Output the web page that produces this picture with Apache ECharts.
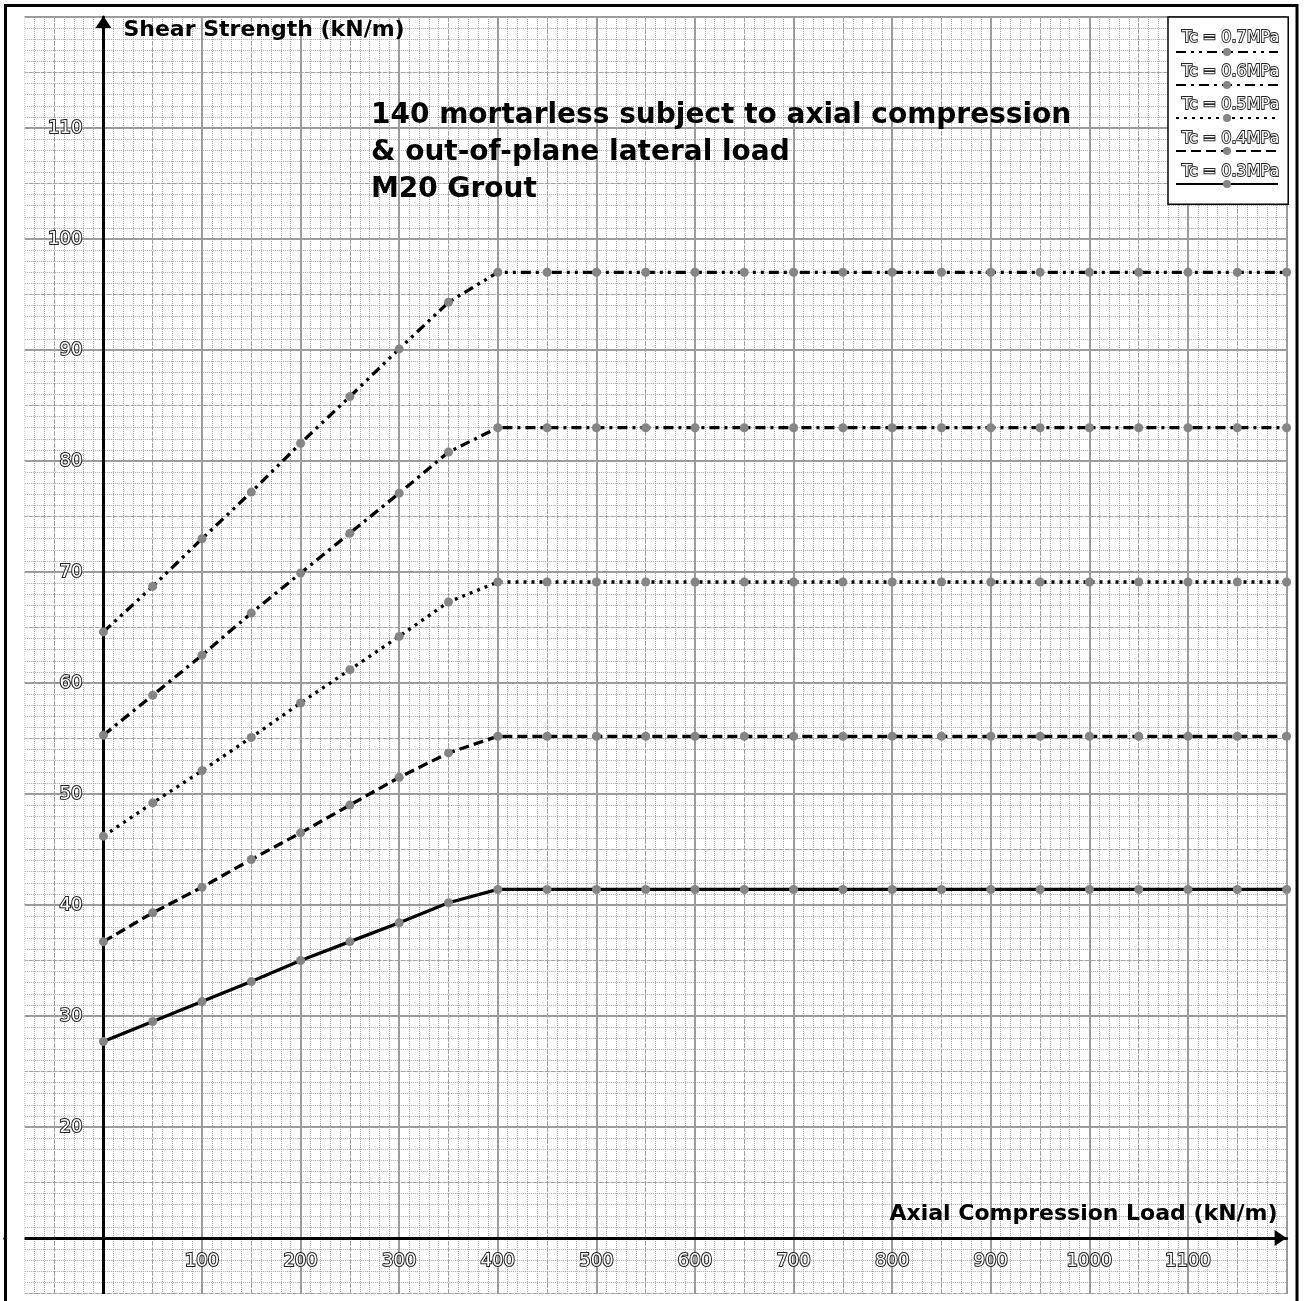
<!DOCTYPE html>
<html><head><meta charset="utf-8">
<script src="https://cdn.jsdelivr.net/npm/echarts@6/dist/echarts.min.js"></script>
<style>html,body{margin:0;padding:0;background:#fff}#c{width:1308px;height:1301px}</style>
</head><body><div id="c"></div>
<script>
// ---- data ----
const loads = [0, 50, 100, 150, 200, 250, 300, 350, 400, 450, 500, 550, 600, 650, 700, 750, 800, 850, 900, 950, 1000, 1050, 1100, 1150, 1200];
const tc07 = [64.6, 68.7, 73.0, 77.2, 81.6, 85.8, 90.1, 94.3, 97.0, 97.0, 97.0, 97.0, 97.0, 97.0, 97.0, 97.0, 97.0, 97.0, 97.0, 97.0, 97.0, 97.0, 97.0, 97.0, 97.0];
const tc06 = [55.3, 58.9, 62.5, 66.3, 69.9, 73.5, 77.1, 80.8, 83.0, 83.0, 83.0, 83.0, 83.0, 83.0, 83.0, 83.0, 83.0, 83.0, 83.0, 83.0, 83.0, 83.0, 83.0, 83.0, 83.0];
const tc05 = [46.2, 49.2, 52.1, 55.1, 58.2, 61.2, 64.2, 67.3, 69.1, 69.1, 69.1, 69.1, 69.1, 69.1, 69.1, 69.1, 69.1, 69.1, 69.1, 69.1, 69.1, 69.1, 69.1, 69.1, 69.1];
const tc04 = [36.7, 39.3, 41.6, 44.1, 46.5, 49.0, 51.5, 53.7, 55.2, 55.2, 55.2, 55.2, 55.2, 55.2, 55.2, 55.2, 55.2, 55.2, 55.2, 55.2, 55.2, 55.2, 55.2, 55.2, 55.2];
const tc03 = [27.7, 29.5, 31.3, 33.1, 35.0, 36.7, 38.4, 40.2, 41.4, 41.4, 41.4, 41.4, 41.4, 41.4, 41.4, 41.4, 41.4, 41.4, 41.4, 41.4, 41.4, 41.4, 41.4, 41.4, 41.4];
const seriesNames = ['Tc = 0.7MPa', 'Tc = 0.6MPa', 'Tc = 0.5MPa', 'Tc = 0.4MPa', 'Tc = 0.3MPa'];
const xTickLabels = [100, 200, 300, 400, 500, 600, 700, 800, 900, 1000, 1100];
const yTickLabels = [20, 30, 40, 50, 60, 70, 80, 90, 100, 110];
const titleLines = ['140 mortarless subject to axial compression', '& out-of-plane lateral load', 'M20 Grout'];
const xName = 'Axial Compression Load (kN/m)';
const yName = 'Shear Strength (kN/m)';

// ---- styles ----
const FONT = 'DejaVu Sans';
const dashes = [[10, 5, 3, 5, 3, 5], [10, 5, 3, 5], [3, 5], [10, 5], 'solid'];
const allValues = [tc07, tc06, tc05, tc04, tc03];

const chart = echarts.init(document.getElementById('c'), null, {renderer: 'canvas'});

const gridLeft = 4.8, gridTop = 17, gridW = 1281.8, gridH = 1332;
const pxPerX = gridW / 1300, pxPerY = gridH / 120;

const hollow = {color: '#fff', textBorderColor: '#222', textBorderWidth: 2, fontFamily: FONT};

const series = allValues.map((vals, i) => ({
  name: seriesNames[i],
  type: 'line',
  xAxisIndex: 0, yAxisIndex: 0,
  data: loads.map((x, j) => [x, vals[j]]),
  symbol: 'circle',
  symbolSize: 9,
  showAllSymbol: true,
  lineStyle: {color: '#000', width: 3.3, type: dashes[i]},
  itemStyle: {color: '#858585'},
  z: 3
}));

const option = {
  animation: false,
  backgroundColor: '#fff',
  title: {
    text: titleLines.join('\n'),
    left: 366, top: 92,
    textStyle: {fontFamily: FONT, fontSize: 28, fontWeight: 'bold', color: '#000', lineHeight: 37}
  },
  grid: {left: gridLeft, top: gridTop, width: gridW, height: gridH, containLabel: false, outerBoundsMode: 'none'},
  xAxis: [{
    type: 'value', min: -100, max: 1200, interval: 100,
    position: 'bottom',
    offset: -(10 * pxPerY),
    axisLine: {show: true, onZero: false, symbol: ['none', 'triangle'], symbolSize: [16, 12], symbolOffset: [0, -6],
      lineStyle: {color: '#000', width: 3}},
    axisTick: {show: false},
    axisLabel: {
      margin: 14, fontSize: 18, ...hollow,
      formatter: v => xTickLabels.indexOf(v) >= 0 ? String(v) : ''
    },
    splitLine: {show: true, lineStyle: {color: '#999', width: 2}},
    minorTick: {show: false, splitNumber: 10},
    minorSplitLine: {show: true, lineStyle: {color: '#a4a4a4', width: 1, type: 'dotted'}},
    name: xName, nameLocation: 'end', nameGap: -9,
    nameTextStyle: {fontFamily: FONT, fontSize: 22, fontWeight: 'bold', color: '#000', align: 'right', verticalAlign: 'bottom', padding: [0, 0, 13, 0]}
  }, {
    type: 'value', min: -100, max: 1200, interval: 50, position: 'top',
    axisLine: {show: false, onZero: false}, axisTick: {show: false}, axisLabel: {show: false},
    splitLine: {show: true, lineStyle: {color: '#a0a0a0', width: 1, type: [4, 2]}}
  }],
  yAxis: [{
    type: 'value', min: 0, max: 120, interval: 10,
    position: 'left',
    offset: -(100 * pxPerX),
    axisLine: {show: true, onZero: false, symbol: ['none', 'triangle'], symbolSize: [16, 12], symbolOffset: [0, -5],
      lineStyle: {color: '#000', width: 3}},
    axisTick: {show: false},
    axisLabel: {
      margin: 21, fontSize: 18, ...hollow,
      formatter: v => yTickLabels.indexOf(v) >= 0 ? String(v) : ''
    },
    splitLine: {show: true, lineStyle: {color: '#999', width: 2}},
    minorTick: {show: false, splitNumber: 10},
    minorSplitLine: {show: true, lineStyle: {color: '#a4a4a4', width: 1, type: 'dotted'}},
    name: yName, nameLocation: 'end', nameGap: -13,
    nameTextStyle: {fontFamily: FONT, fontSize: 22, fontWeight: 'bold', color: '#000', align: 'left', verticalAlign: 'middle', padding: [0, 0, 0, 20]}
  }, {
    type: 'value', min: 0, max: 120, interval: 5, position: 'right',
    axisLine: {show: false, onZero: false}, axisTick: {show: false}, axisLabel: {show: false},
    splitLine: {show: true, lineStyle: {color: '#a0a0a0', width: 1, type: [4, 2]}}
  }],
  legend: [{
    data: seriesNames,
    orient: 'vertical', left: 1168, top: 17,
    itemWidth: 1, itemHeight: 16, itemGap: 15.8,
    padding: [12, 8, 23, 2],
    backgroundColor: '#fff', borderColor: '#000', borderWidth: 1.5,
    itemStyle: {opacity: 0}, lineStyle: {opacity: 0},
    textStyle: {fontSize: 16, ...hollow, textBorderWidth: 1.8},
    z: 4
  }, {
    data: seriesNames,
    orient: 'vertical', left: 1175, top: 47,
    itemWidth: 102, itemHeight: 10, itemGap: 24,
    padding: 0,
    formatter: () => '',
    z: 5
  }],
  graphic: [
    {type: 'rect', z: 50, shape: {x: 7, y: 0, width: 17.5, height: 1301}, style: {fill: '#fff'}},
    {type: 'rect', z: 50, shape: {x: 0, y: 1294, width: 1308, height: 7}, style: {fill: '#fff'}},
    {type: 'rect', z: 60, shape: {x: 5.5, y: 5.5, width: 1291.5, height: 1310}, style: {fill: 'none', stroke: '#000', lineWidth: 3}}
  ],
  series: series
};
chart.setOption(option);
</script>
</body></html>
